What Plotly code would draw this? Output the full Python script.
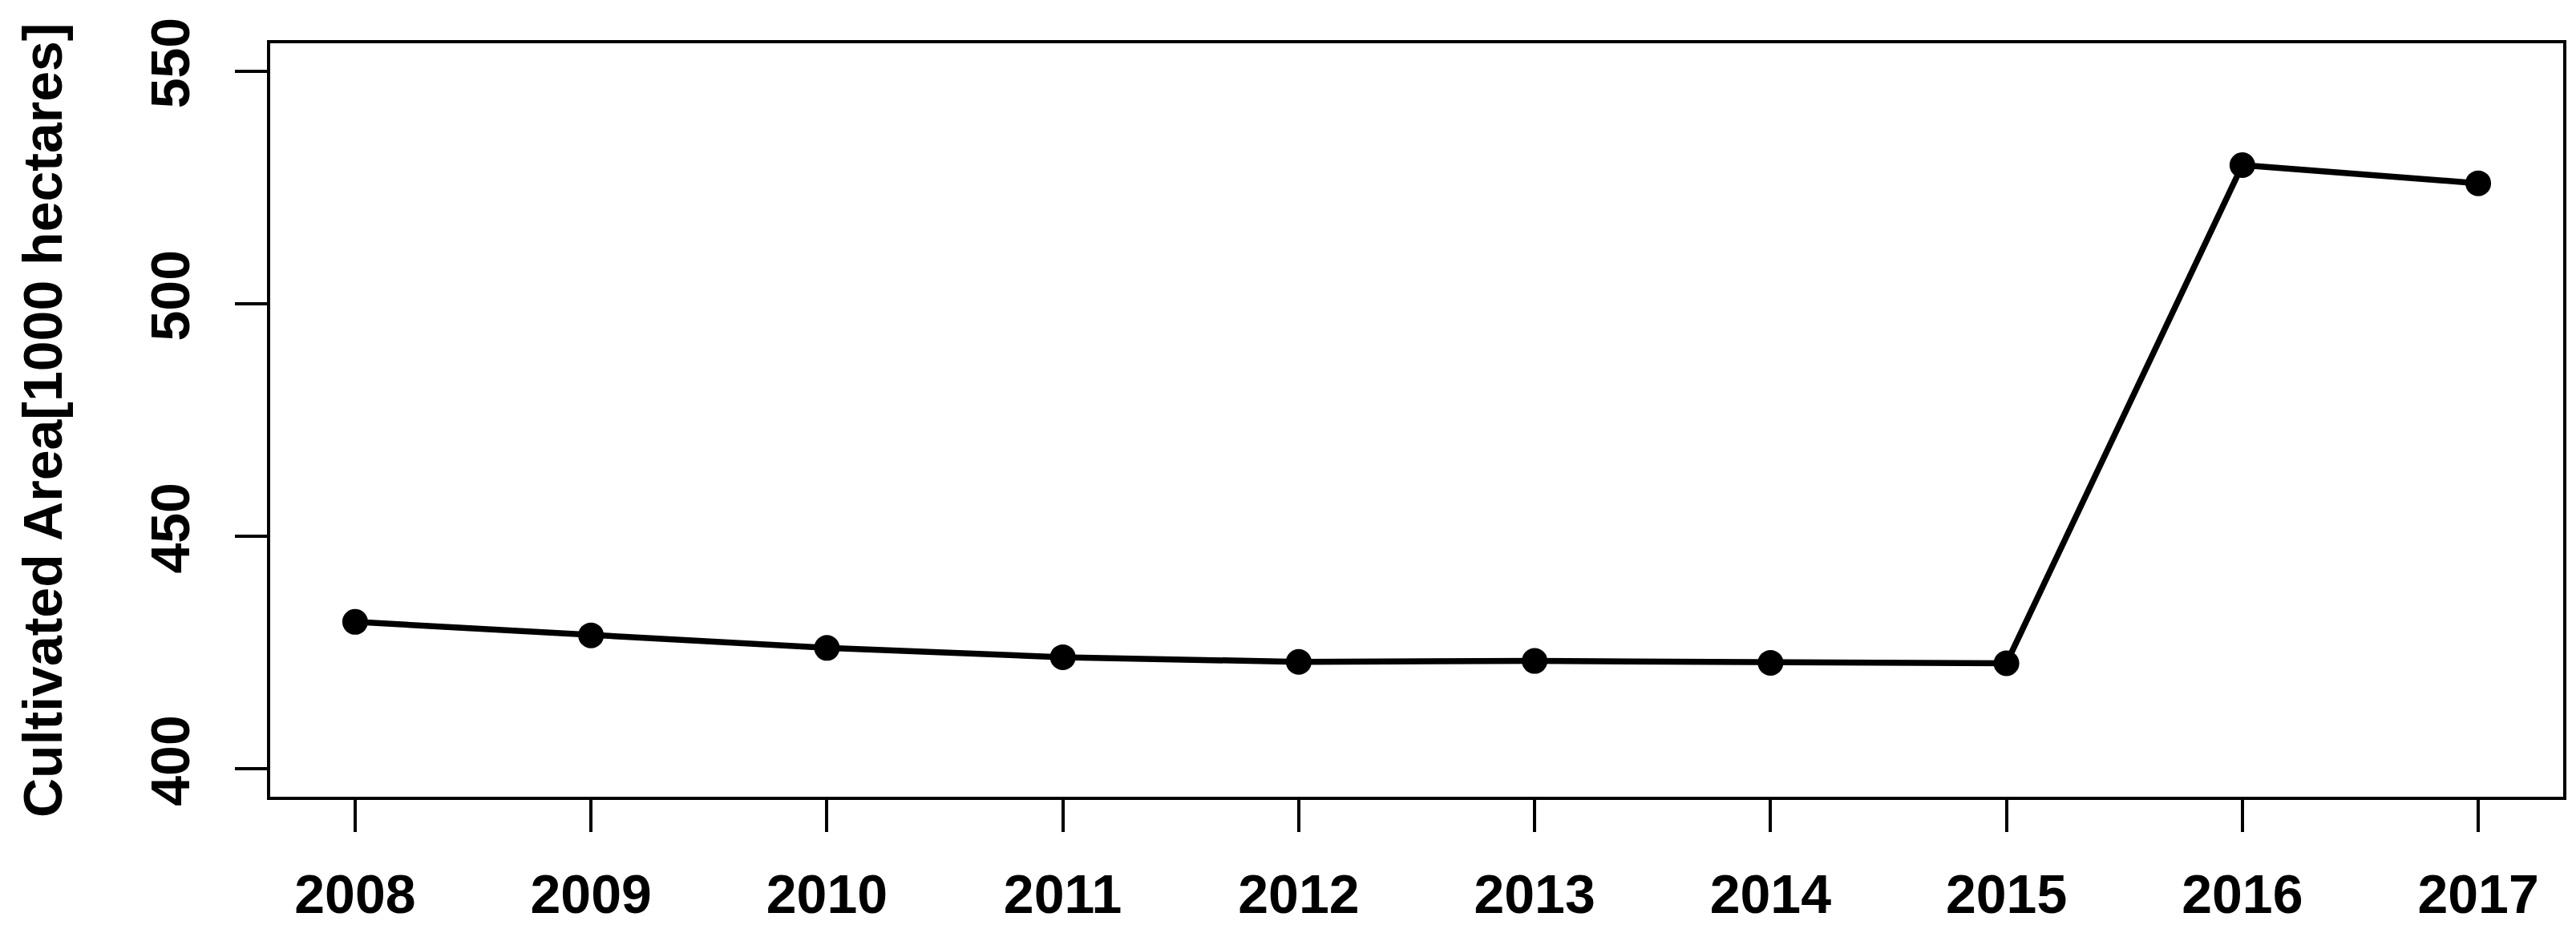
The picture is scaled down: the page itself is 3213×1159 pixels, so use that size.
import plotly.graph_objects as go

years = [2008, 2009, 2010, 2011, 2012, 2013, 2014, 2015, 2016, 2017]
area = [431.6, 428.7, 426.0, 424.0, 423.0, 423.2, 422.8, 422.7, 529.8, 525.9]
y_ticks = [400, 450, 500, 550]
y_label = "Cultivated Area[1000 hectares]"

W, H = 3213, 1159
L, R, T, B = 329, 24, 46, 173

font = dict(family="Liberation Sans, Arial, sans-serif", size=68, color="black", weight="bold")

fig = go.Figure()
fig.add_trace(go.Scatter(
    x=years, y=area, mode="lines+markers",
    line=dict(color="black", width=7.5),
    marker=dict(color="black", size=32),
    showlegend=False, hoverinfo="skip",
))

fig.update_layout(
    width=W, height=H,
    margin=dict(l=L, r=R, t=T, b=B, pad=0),
    paper_bgcolor="white", plot_bgcolor="white",
    font=font,
)
fig.update_xaxes(
    range=[2007.64, 2017.36], tickvals=years, ticktext=[str(y) for y in years],
    showgrid=False, zeroline=False,
    showline=True, linecolor="black", linewidth=3.5, mirror=True,
    ticks="outside", ticklen=40, tickwidth=3.5, tickcolor="black",
    tickfont=font, ticklabelstandoff=20,
)
fig.update_yaxes(
    range=[394, 556], tickvals=y_ticks, ticktext=[str(v) for v in y_ticks],
    showgrid=False, zeroline=False,
    showline=True, linecolor="black", linewidth=3.5, mirror=True,
    ticks="outside", ticklen=40, tickwidth=3.5, tickcolor="black",
    tickfont=font, tickangle=-90, ticklabelstandoff=30,
)
fig.add_annotation(
    text=y_label, textangle=-90, showarrow=False,
    xref="paper", yref="paper",
    x=(45 - L) / (W - L - R), y=0.5 + (516 - 517) / (H - T - B),
    xanchor="center", yanchor="middle", font=font,
)

fig.write_html("out.html")
